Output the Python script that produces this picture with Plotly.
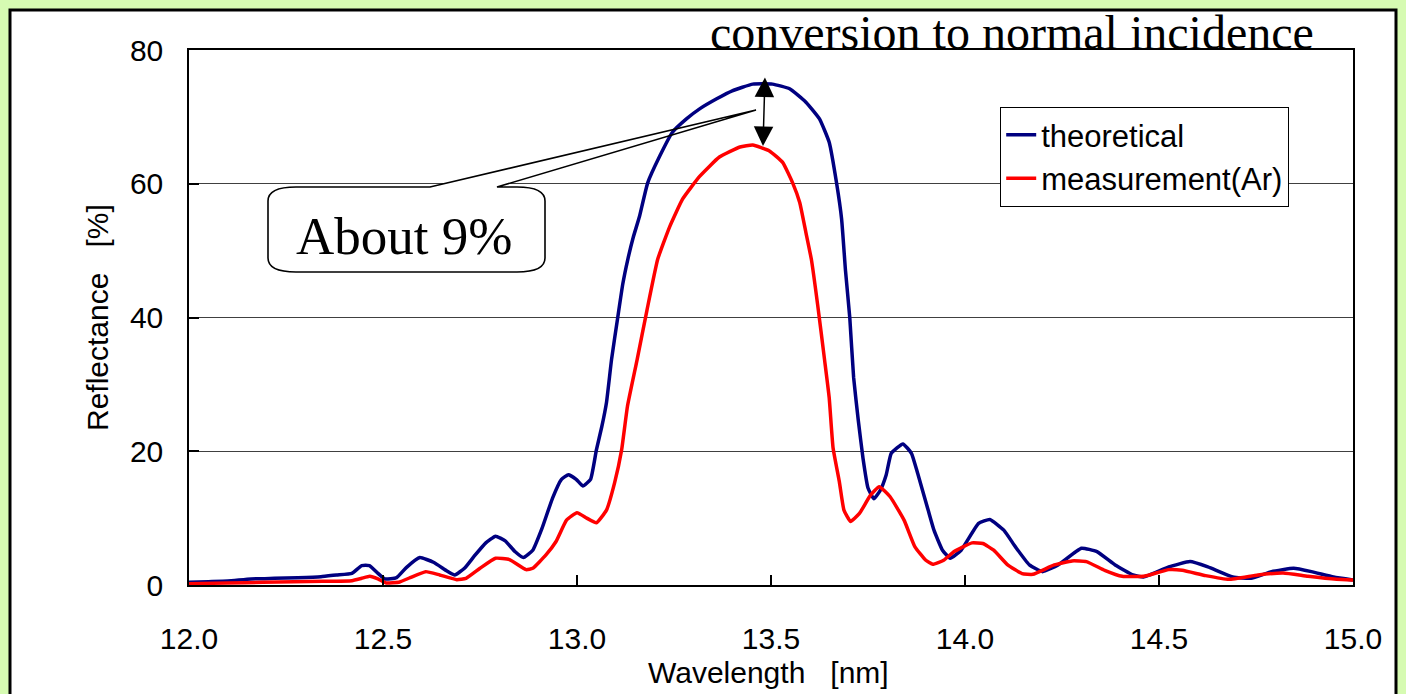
import plotly.graph_objects as go

# ---------------- data ----------------
theo_wl = [12.00, 12.05, 12.10, 12.16, 12.22, 12.28, 12.34, 12.38, 12.42, 12.445, 12.465, 12.487,
           12.505, 12.535, 12.56, 12.595, 12.63, 12.665, 12.685, 12.71, 12.735, 12.765, 12.79, 12.815,
           12.84, 12.862, 12.886, 12.91, 12.937, 12.96, 12.978, 12.998, 13.015, 13.035, 13.05, 13.064,
           13.076, 13.089, 13.105, 13.118, 13.131, 13.145, 13.161, 13.182, 13.213, 13.246, 13.282,
           13.316, 13.36, 13.40, 13.453, 13.504, 13.548, 13.59, 13.625, 13.65, 13.669, 13.682, 13.692,
           13.703, 13.713, 13.725, 13.737, 13.75, 13.765, 13.782, 13.797, 13.81, 13.84, 13.862, 13.878,
           13.905, 13.92, 13.942, 13.962, 13.99, 14.035, 14.064, 14.10, 14.13, 14.166, 14.20, 14.24,
           14.30, 14.34, 14.387, 14.433, 14.46, 14.525, 14.58, 14.626, 14.69, 14.737, 14.79, 14.847,
           14.893, 14.95, 15.00]
theo_R = [0.4, 0.5, 0.6, 0.9, 1.0, 1.1, 1.25, 1.5, 1.75, 2.9, 2.9, 1.75,
          0.9, 1.1, 2.6, 4.1, 3.4, 2.1, 1.5, 2.5, 4.3, 6.3, 7.3, 6.6,
          5.0, 4.1, 5.2, 8.5, 13.0, 15.8, 16.5, 15.8, 14.8, 15.8, 20.2, 23.7,
          27.3, 33.7, 40.0, 45.0, 48.7, 52.0, 55.1, 60.1, 64.1, 67.7, 69.7,
          71.2, 72.7, 73.9, 74.9, 74.9, 74.2, 72.2, 69.7, 66.2, 60.1, 54.7, 47.0,
          40.0, 31.0, 24.6, 19.0, 14.5, 12.9, 14.2, 16.5, 19.7, 21.1, 19.7, 16.7,
          11.2, 8.2, 5.2, 4.0, 5.2, 9.2, 9.8, 8.2, 5.7, 3.0, 2.0, 3.0,
          5.5, 5.0, 3.0, 1.5, 1.2, 2.7, 3.5, 2.7, 1.2, 1.0, 2.0, 2.5,
          2.0, 1.2, 0.75]

meas_wl = [12.00, 12.10, 12.19, 12.27, 12.345, 12.42, 12.445, 12.466, 12.487, 12.508, 12.543, 12.57,
           12.61, 12.646, 12.69, 12.714, 12.75, 12.79, 12.826, 12.869, 12.886, 12.92, 12.946, 12.973,
           13.00, 13.025, 13.05, 13.076, 13.097, 13.115, 13.13, 13.155, 13.18, 13.208, 13.239, 13.272,
           13.316, 13.367, 13.42, 13.453, 13.496, 13.53, 13.556, 13.574, 13.59, 13.604, 13.62, 13.638,
           13.65, 13.66, 13.676, 13.688, 13.705, 13.728, 13.756, 13.779, 13.807, 13.843, 13.871, 13.899,
           13.917, 13.945, 13.972, 14.018, 14.046, 14.074, 14.11, 14.147, 14.175, 14.23, 14.276, 14.313,
           14.36, 14.405, 14.46, 14.525, 14.56, 14.62, 14.68, 14.755, 14.82, 14.884, 14.958, 15.00]
meas_R = [0.2, 0.3, 0.4, 0.5, 0.55, 0.65, 1.0, 1.3, 0.9, 0.3, 0.45, 1.1,
          2.0, 1.5, 0.8, 1.0, 2.5, 4.0, 3.8, 2.3, 2.5, 4.5, 6.5, 9.7,
          10.8, 10.0, 9.3, 11.2, 15.3, 20.2, 26.7, 33.7, 41.0, 48.7, 53.6, 57.7,
          61.1, 64.0, 65.5, 65.8, 64.9, 63.2, 60.1, 57.2, 52.7, 48.7, 42.0, 33.7,
          28.0, 20.5, 15.5, 11.2, 9.5, 10.7, 13.4, 14.7, 13.2, 9.7, 5.7, 3.7,
          3.1, 3.7, 5.0, 6.3, 6.2, 5.2, 3.0, 1.7, 1.6, 3.0, 3.6, 3.5,
          2.2, 1.3, 1.3, 2.3, 2.2, 1.4, 0.85, 1.5, 1.8, 1.3, 0.85, 0.75]

series_names = ["theoretical", "measurement(Ar)"]
x_ticks = [12.0, 12.5, 13.0, 13.5, 14.0, 14.5, 15.0]
y_ticks = [0, 20, 40, 60, 80]

# ---------------- layout geometry ----------------
W, H = 1406, 694
L, R, T, B = 189, 1353, 50, 585
XMIN, XMAX, YMIN, YMAX = 12.0, 15.0, 0.0, 80.0


def pxx(p):   # pixel -> paper x
    return (p - L) / (R - L)


def pxy(p):   # pixel -> paper y
    return (B - p) / (B - T)


def dx(p):    # pixel -> data x
    return XMIN + (p - L) / (R - L) * (XMAX - XMIN)


def dy(p):    # pixel -> data y
    return YMIN + (B - p) / (B - T) * (YMAX - YMIN)


fig = go.Figure()
fig.add_trace(go.Scatter(x=theo_wl, y=theo_R, mode="lines", name=series_names[0],
                         line=dict(color="#000080", width=3.5, shape="spline", smoothing=0.4)))
fig.add_trace(go.Scatter(x=meas_wl, y=meas_R, mode="lines", name=series_names[1],
                         line=dict(color="#ff0000", width=3.5, shape="spline", smoothing=0.4)))

tick_font = dict(family="Liberation Sans, Arial", size=30, color="black")
title_font = dict(family="Liberation Sans, Arial", size=30, color="black")

fig.update_xaxes(range=[XMIN, XMAX], tickvals=x_ticks, ticktext=[f"{v:.1f}" for v in x_ticks],
                 ticks="inside", ticklen=10, tickwidth=1.5, tickcolor="black",
                 showline=True, linecolor="black", linewidth=1.5, mirror=True,
                 showgrid=False, zeroline=False, tickfont=tick_font, ticklabelstandoff=26)
fig.update_yaxes(range=[YMIN, YMAX], tickvals=y_ticks,
                 ticks="inside", ticklen=10, tickwidth=1.5, tickcolor="black",
                 showline=True, linecolor="black", linewidth=1.5, mirror=True,
                 showgrid=True, gridcolor="#404040", gridwidth=1, zeroline=False,
                 tickfont=tick_font, ticklabelstandoff=18)

# ---- callout "About 9%" ----
bl, br, bt, bb = 268, 545, 187, 272
rx, ry = 28, 14
pts = [("M", bl, bt + ry), ("Q", bl, bt, bl + rx, bt), ("L", 430, bt), ("L", 756, 110),
       ("L", 497, bt), ("L", br - rx, bt), ("Q", br, bt, br, bt + ry), ("L", br, bb - ry),
       ("Q", br, bb, br - rx, bb), ("L", bl + rx, bb), ("Q", bl, bb, bl, bb - ry)]
path = ""
for cmd in pts:
    c = cmd[0]
    coords = cmd[1:]
    s = []
    for i in range(0, len(coords), 2):
        s.append(f"{dx(coords[i]):.5f},{dy(coords[i + 1]):.5f}")
    path += c + " " + " ".join(s) + " "
path += "Z"

shapes = [
    # outer frame
    dict(type="rect", xref="paper", yref="paper", x0=pxx(10), x1=pxx(1396), y0=pxy(720), y1=pxy(10),
         fillcolor="white", line=dict(color="black", width=3), layer="below"),
    # callout fill (between grid and traces)
    dict(type="path", xref="x", yref="y", path=path, fillcolor="white",
         line=dict(width=0), layer="between"),
    # callout outline on top
    dict(type="path", xref="x", yref="y", path=path, fillcolor="rgba(0,0,0,0)",
         line=dict(color="black", width=1.6), layer="above"),
]

annotations = [
    dict(text="conversion to normal incidence", xref="paper", yref="paper", x=pxx(1012), y=pxy(32),
         showarrow=False, xanchor="center", yanchor="middle",
         font=dict(family="Liberation Serif, Times New Roman", size=48, color="black")),
    dict(text="About 9%", xref="paper", yref="paper", x=pxx(404), y=pxy(236),
         showarrow=False, xanchor="center", yanchor="middle",
         font=dict(family="Liberation Serif, Times New Roman", size=53, color="black")),
    dict(text="", xref="paper", yref="paper", x=pxx(763), y=pxy(146), ax=2, ay=-70,
         showarrow=True, arrowhead=2, startarrowhead=2, arrowside="end+start",
         arrowsize=2.6, arrowwidth=1.5, arrowcolor="black", standoff=0, startstandoff=0),
    dict(text="Reflectance\u00a0\u00a0\u00a0[%]", xref="paper", yref="paper", x=pxx(97), y=pxy(318),
         showarrow=False, textangle=-90, xanchor="center", yanchor="middle", font=title_font),
    dict(text="Wavelength\u00a0\u00a0\u00a0[nm]", xref="paper", yref="paper", x=pxx(768), y=pxy(672),
         showarrow=False, xanchor="center", yanchor="middle", font=title_font),
]

fig.update_layout(
    width=W, height=H, autosize=False,
    margin=dict(l=L, r=W - R, t=T, b=H - B, pad=0),
    paper_bgcolor="#d6fbb2", plot_bgcolor="rgba(0,0,0,0)",
    showlegend=True,
    legend=dict(x=pxx(1000), y=pxy(107), xanchor="left", yanchor="top",
                bgcolor="white", bordercolor="black", borderwidth=1.2,
                font=dict(family="Liberation Sans, Arial", size=31, color="black"),
                tracegroupgap=0, itemwidth=30),
    shapes=shapes, annotations=annotations,
)

fig.write_html("out.html")
